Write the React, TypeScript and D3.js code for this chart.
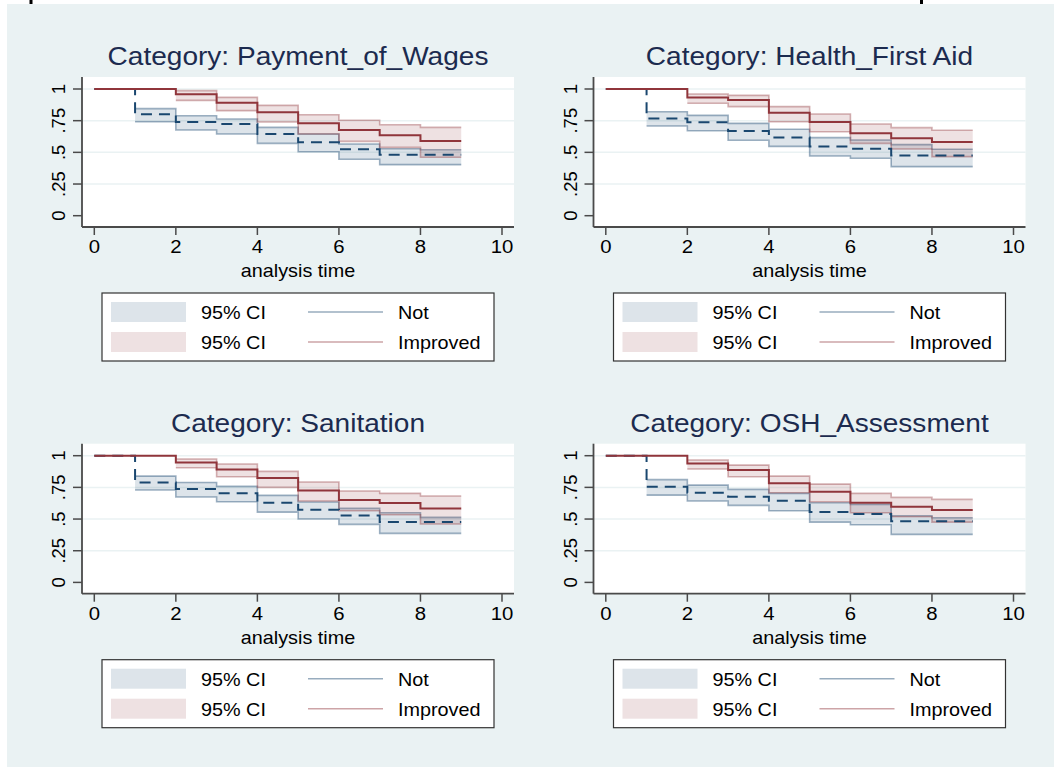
import React from "react";
import * as d3 from "d3";

const categories = ["Payment_of_Wages", "Health_First Aid", "Sanitation", "OSH_Assessment"];
const xTicks = [0, 2, 4, 6, 8, 10];
const yTicks = [0, 0.25, 0.5, 0.75, 1];
const yTickLabels = ["0", ".25", ".5", ".75", "1"];
const ciLabel = "95% CI";
const groupLabels = ["Not", "Improved"];
const xTitle = "analysis time";

// step start times
const notTimes = [1, 2, 3, 4, 5, 6, 7, 8];
const impTimes = [2, 3, 4, 5, 6, 7, 8];
const endTime = 9;

// Payment_of_Wages
const wagesNot = [0.8, 0.739, 0.724, 0.645, 0.579, 0.524, 0.482, 0.482];
const wagesNotLo = [0.742, 0.676, 0.645, 0.571, 0.505, 0.445, 0.403, 0.403];
const wagesNotHi = [0.845, 0.789, 0.763, 0.697, 0.645, 0.566, 0.529, 0.52];
const wagesImp = [0.958, 0.892, 0.816, 0.729, 0.676, 0.634, 0.589];
const wagesImpLo = [0.91, 0.829, 0.739, 0.645, 0.587, 0.539, 0.461];
const wagesImpHi = [0.987, 0.934, 0.871, 0.797, 0.753, 0.718, 0.697];

// Health_First Aid
const healthNot = [0.768, 0.737, 0.668, 0.618, 0.547, 0.529, 0.476, 0.476];
const healthNotLo = [0.708, 0.671, 0.595, 0.547, 0.471, 0.453, 0.387, 0.387];
const healthNotHi = [0.821, 0.792, 0.729, 0.682, 0.616, 0.597, 0.561, 0.524];
const healthImp = [0.932, 0.913, 0.813, 0.739, 0.65, 0.611, 0.582];
const healthImpLo = [0.887, 0.861, 0.742, 0.663, 0.571, 0.526, 0.466];
const healthImpHi = [0.96, 0.95, 0.861, 0.803, 0.724, 0.695, 0.674];

// Sanitation
const sanNot = [0.789, 0.737, 0.703, 0.629, 0.574, 0.529, 0.476, 0.476];
const sanNotLo = [0.729, 0.674, 0.637, 0.555, 0.5, 0.458, 0.387, 0.387];
const sanNotHi = [0.839, 0.789, 0.758, 0.687, 0.634, 0.584, 0.55, 0.513];
const sanImp = [0.947, 0.892, 0.824, 0.726, 0.65, 0.626, 0.584];
const sanImpLo = [0.905, 0.834, 0.75, 0.642, 0.566, 0.534, 0.461];
const sanImpHi = [0.974, 0.934, 0.876, 0.792, 0.721, 0.703, 0.682];

// OSH_Assessment
const oshNot = [0.755, 0.708, 0.676, 0.645, 0.555, 0.539, 0.482, 0.482];
const oshNotLo = [0.689, 0.642, 0.608, 0.566, 0.476, 0.455, 0.379, 0.379];
const oshNotHi = [0.811, 0.768, 0.734, 0.703, 0.629, 0.616, 0.526, 0.51];
const oshImp = [0.939, 0.887, 0.782, 0.716, 0.629, 0.597, 0.571];
const oshImpLo = [0.895, 0.834, 0.708, 0.637, 0.55, 0.518, 0.476];
const oshImpHi = [0.966, 0.926, 0.839, 0.776, 0.703, 0.671, 0.655];

const panels = [
  { name: categories[0], not: wagesNot, notLo: wagesNotLo, notHi: wagesNotHi, imp: wagesImp, impLo: wagesImpLo, impHi: wagesImpHi },
  { name: categories[1], not: healthNot, notLo: healthNotLo, notHi: healthNotHi, imp: healthImp, impLo: healthImpLo, impHi: healthImpHi },
  { name: categories[2], not: sanNot, notLo: sanNotLo, notHi: sanNotHi, imp: sanImp, impLo: sanImpLo, impHi: sanImpHi },
  { name: categories[3], not: oshNot, notLo: oshNotLo, notHi: oshNotHi, imp: oshImp, impLo: oshImpLo, impHi: oshImpHi },
];

const NAVY = "#1a476f";
const MAROON = "#90353b";
const BG = "#eaf2f3";
const FONT = "'Liberation Sans', Arial, Helvetica, sans-serif";
const SX = 1.1;

function survPoints(times: number[], vals: number[]) {
  const pts: [number, number][] = [[0, 1]];
  times.forEach((t, k) => pts.push([t, vals[k]]));
  pts.push([endTime, vals[vals.length - 1]]);
  return pts;
}

function ciPoints(times: number[], lo: number[], hi: number[]) {
  const pts = times.map((t, k) => ({ t, lo: lo[k], hi: hi[k] }));
  pts.push({ t: endTime, lo: lo[lo.length - 1], hi: hi[hi.length - 1] });
  return pts;
}

function Txt(props: { x: number; y: number; size: number; anchor?: string; fill?: string; children: React.ReactNode }) {
  const { x, y, size, anchor = "middle", fill = "#000", children } = props;
  return (
    <text
      transform={`translate(${x},${y}) scale(${SX},1)`}
      fontSize={size}
      fontFamily={FONT}
      textAnchor={anchor}
      fill={fill}
    >
      {children}
    </text>
  );
}

function Panel({ p, idx }: { p: (typeof panels)[number]; idx: number }) {
  const col = idx % 2;
  const row = Math.floor(idx / 2);
  const dx = col * 511.5;
  const dy = row * 366.7;
  const plotL = 82 + dx;
  const plotR = 514 + dx;
  const plotT = 77 + dy;
  const plotB = 227 + dy;
  const x = d3.scaleLinear().domain([0, 10]).range([94.3 + dx, 502 + dx]);
  const y = d3.scaleLinear().domain([0, 1]).range([215.7 + dy, 89 + dy]);
  const cx = (plotL + plotR) / 2;

  const line = d3
    .line<[number, number]>()
    .x((d) => x(d[0]))
    .y((d) => y(d[1]))
    .curve(d3.curveStepAfter);
  const area = d3
    .area<{ t: number; lo: number; hi: number }>()
    .x((d) => x(d.t))
    .y0((d) => y(d.lo))
    .y1((d) => y(d.hi))
    .curve(d3.curveStepAfter);
  const loLine = d3
    .line<{ t: number; lo: number; hi: number }>()
    .x((d) => x(d.t))
    .y((d) => y(d.lo))
    .curve(d3.curveStepAfter);
  const hiLine = d3
    .line<{ t: number; lo: number; hi: number }>()
    .x((d) => x(d.t))
    .y((d) => y(d.hi))
    .curve(d3.curveStepAfter);

  const notCI = ciPoints(notTimes, p.notLo, p.notHi);
  const impCI = ciPoints(impTimes, p.impLo, p.impHi);

  const Lx = 102 + dx;
  const Ly = 293 + dy;

  return (
    <g>
      <Txt x={cx} y={65 + dy} size={25.5} fill="#1c2b4f">
        {`Category: ${p.name}`}
      </Txt>
      <rect x={plotL} y={plotT} width={plotR - plotL} height={plotB - plotT} fill="#fff" />
      {yTicks
        .filter((v) => v > 0)
        .map((v) => (
          <line key={v} x1={plotL} x2={plotR} y1={y(v)} y2={y(v)} stroke={BG} strokeWidth={1.5} />
        ))}
      {/* CI areas */}
      <path d={area(notCI) || ""} fill={NAVY} fillOpacity={0.15} />
      <path d={loLine(notCI) || ""} fill="none" stroke={NAVY} strokeOpacity={0.42} strokeWidth={1.6} />
      <path d={hiLine(notCI) || ""} fill="none" stroke={NAVY} strokeOpacity={0.42} strokeWidth={1.6} />
      <path d={area(impCI) || ""} fill={MAROON} fillOpacity={0.15} />
      <path d={loLine(impCI) || ""} fill="none" stroke={MAROON} strokeOpacity={0.38} strokeWidth={1.6} />
      <path d={hiLine(impCI) || ""} fill="none" stroke={MAROON} strokeOpacity={0.38} strokeWidth={1.6} />
      {/* survival lines */}
      <path
        d={line(survPoints(notTimes, p.not)) || ""}
        fill="none"
        stroke={NAVY}
        strokeWidth={2}
        strokeDasharray="11,7"
      />
      <path d={line(survPoints(impTimes, p.imp)) || ""} fill="none" stroke={MAROON} strokeWidth={2} />
      {/* axes */}
      <line x1={plotL} x2={plotL} y1={plotT} y2={plotB} stroke="#4a4a4a" strokeWidth={1.8} />
      <line x1={plotL} x2={plotR} y1={plotB} y2={plotB} stroke="#4a4a4a" strokeWidth={1.8} />
      {yTicks.map((v, k) => (
        <g key={`y${v}`}>
          <line x1={plotL - 9} x2={plotL} y1={y(v)} y2={y(v)} stroke="#4a4a4a" strokeWidth={1.5} />
          <text
            transform={`translate(${plotL - 17},${y(v)}) rotate(-90)`}
            fontSize={18.5}
            fontFamily={FONT}
            textAnchor="middle"
            fill="#000"
          >
            {yTickLabels[k]}
          </text>
        </g>
      ))}
      {xTicks.map((v) => (
        <g key={`x${v}`}>
          <line x1={x(v)} x2={x(v)} y1={plotB} y2={plotB + 8} stroke="#4a4a4a" strokeWidth={1.5} />
          <Txt x={x(v)} y={253 + dy} size={18.5}>
            {String(v)}
          </Txt>
        </g>
      ))}
      <Txt x={cx} y={277 + dy} size={18}>
        {xTitle}
      </Txt>
      {/* legend */}
      <rect x={Lx} y={Ly} width={392} height={68} fill="#fff" stroke="#333" strokeWidth={1.2} />
      <rect x={Lx + 9} y={Ly + 9} width={75} height={20} fill={NAVY} fillOpacity={0.15} />
      <rect x={Lx + 9} y={Ly + 39} width={75} height={20} fill={MAROON} fillOpacity={0.15} />
      <Txt x={Lx + 99} y={Ly + 26} size={18} anchor="start">
        {ciLabel}
      </Txt>
      <Txt x={Lx + 99} y={Ly + 56} size={18} anchor="start">
        {ciLabel}
      </Txt>
      <line x1={Lx + 206} x2={Lx + 281} y1={Ly + 19} y2={Ly + 19} stroke={NAVY} strokeOpacity={0.45} strokeWidth={1.6} />
      <line x1={Lx + 206} x2={Lx + 281} y1={Ly + 49} y2={Ly + 49} stroke={MAROON} strokeOpacity={0.45} strokeWidth={1.6} />
      <Txt x={Lx + 296} y={Ly + 26} size={18} anchor="start">
        {groupLabels[0]}
      </Txt>
      <Txt x={Lx + 296} y={Ly + 56} size={18} anchor="start">
        {groupLabels[1]}
      </Txt>
    </g>
  );
}

export default function App() {
  return (
    <svg
      width={1054}
      height={767}
      style={{ position: "absolute", left: 0, top: 0, display: "block" }}
      xmlns="http://www.w3.org/2000/svg"
    >
      <rect x={0} y={0} width={1054} height={767} fill="#fff" />
      <rect x={7} y={4} width={1047} height={763} fill={BG} />
      <rect x={29.5} y={0} width={3} height={4} fill="#000" />
      <rect x={920} y={0} width={3} height={4} fill="#000" />
      {panels.map((p, i) => (
        <Panel key={p.name} p={p} idx={i} />
      ))}
    </svg>
  );
}
